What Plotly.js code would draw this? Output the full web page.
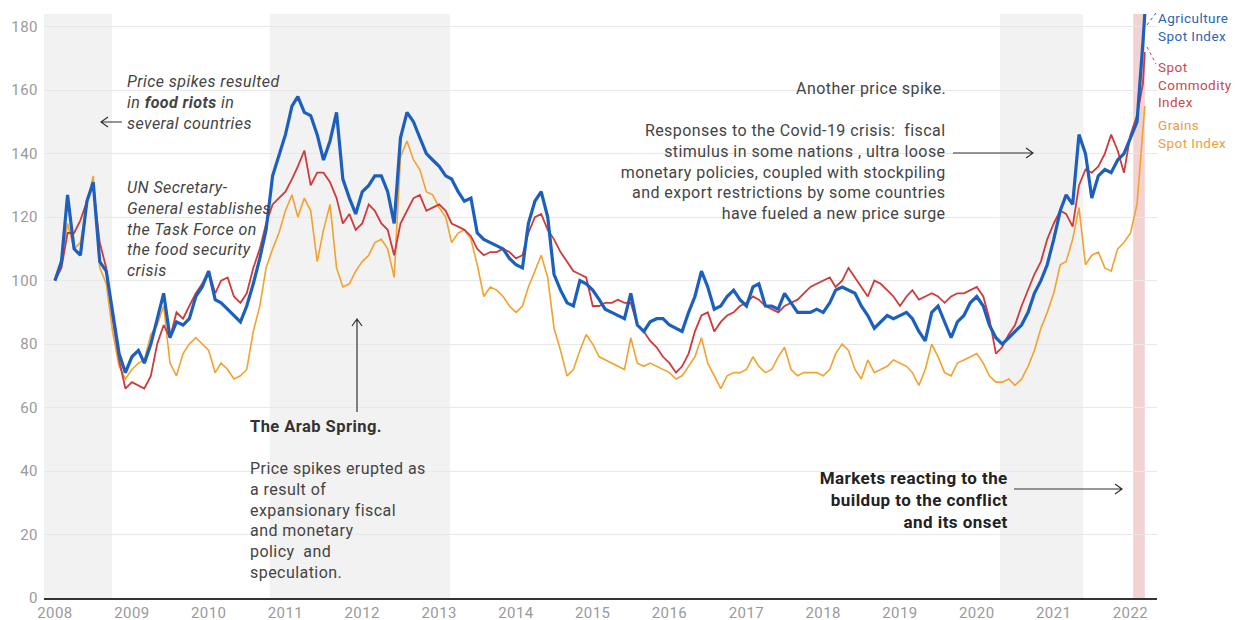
<!DOCTYPE html>
<html><head><meta charset="utf-8">
<script src="https://cdn.plot.ly/plotly-3.0.1.min.js"></script>
<style>html,body{margin:0;padding:0;background:#fff}#chart{width:1243px;height:620px}#chart text{letter-spacing:0.45px}</style>
</head><body><div id="chart"></div>
<script>
const dates = [
'2008-01','2008-02','2008-03','2008-04','2008-05','2008-06','2008-07','2008-08','2008-09','2008-10','2008-11','2008-12',
'2009-01','2009-02','2009-03','2009-04','2009-05','2009-06','2009-07','2009-08','2009-09','2009-10','2009-11','2009-12',
'2010-01','2010-02','2010-03','2010-04','2010-05','2010-06','2010-07','2010-08','2010-09','2010-10','2010-11','2010-12',
'2011-01','2011-02','2011-03','2011-04','2011-05','2011-06','2011-07','2011-08','2011-09','2011-10','2011-11','2011-12',
'2012-01','2012-02','2012-03','2012-04','2012-05','2012-06','2012-07','2012-08','2012-09','2012-10','2012-11','2012-12',
'2013-01','2013-02','2013-03','2013-04','2013-05','2013-06','2013-07','2013-08','2013-09','2013-10','2013-11','2013-12',
'2014-01','2014-02','2014-03','2014-04','2014-05','2014-06','2014-07','2014-08','2014-09','2014-10','2014-11','2014-12',
'2015-01','2015-02','2015-03','2015-04','2015-05','2015-06','2015-07','2015-08','2015-09','2015-10','2015-11','2015-12',
'2016-01','2016-02','2016-03','2016-04','2016-05','2016-06','2016-07','2016-08','2016-09','2016-10','2016-11','2016-12',
'2017-01','2017-02','2017-03','2017-04','2017-05','2017-06','2017-07','2017-08','2017-09','2017-10','2017-11','2017-12',
'2018-01','2018-02','2018-03','2018-04','2018-05','2018-06','2018-07','2018-08','2018-09','2018-10','2018-11','2018-12',
'2019-01','2019-02','2019-03','2019-04','2019-05','2019-06','2019-07','2019-08','2019-09','2019-10','2019-11','2019-12',
'2020-01','2020-02','2020-03','2020-04','2020-05','2020-06','2020-07','2020-08','2020-09','2020-10','2020-11','2020-12',
'2021-01','2021-02','2021-03','2021-04','2021-05','2021-06','2021-07','2021-08','2021-09','2021-10','2021-11','2021-12',
'2022-01','2022-02','2022-03','2022-03-10'];

const agriculture = [
100,106,127,110,108,125,131,106,103,90,77,71,
76,78,74,80,88,96,82,87,86,88,95,98,
103,94,93,91,89,87,92,99,107,116,133,139,
146,155,158,153,152,146,138,144,153,132,126,121,
128,130,133,133,128,118,145,153,150,145,140,138,
136,133,132,128,125,126,115,113,112,111,110,107,
105,104,118,125,128,120,102,97,93,92,100,99,
97,94,91,90,89,88,96,86,84,87,88,88,
86,85,84,90,95,103,98,91,92,95,97,94,
92,98,99,92,92,91,96,93,90,90,90,91,
90,93,97,98,97,96,92,89,85,87,89,88,
89,90,88,84,81,90,92,87,82,87,89,93,
95,92,86,82,80,82,84,86,90,96,100,105,
113,122,127,124,146,140,126,133,135,134,138,140,
145,150,175,184];

const spotCommodity = [
100,104,115,115,119,125,130,112,104,88,75,66,
68,67,66,70,80,86,82,90,88,92,96,99,
103,96,100,101,95,93,96,104,110,118,124,126,
128,132,136,141,130,134,134,131,126,118,121,116,
118,124,122,118,116,108,118,122,126,127,122,123,
124,122,118,117,116,114,110,108,109,109,110,109,
107,108,115,120,121,116,113,109,106,103,102,101,
92,92,93,93,94,93,93,86,84,81,79,76,
74,71,73,77,84,89,90,84,87,89,90,92,
93,95,94,92,91,90,92,93,94,96,98,99,
100,101,98,100,104,101,98,95,100,99,97,95,
92,95,97,94,95,96,95,93,95,96,96,97,
98,95,88,77,79,83,86,92,97,102,106,113,
118,122,121,117,130,135,134,136,140,146,141,134,
146,152,162,172];

const grains = [
100,107,118,110,112,124,133,104,99,84,73,69,
72,74,75,83,86,92,74,70,77,80,82,80,
78,71,74,72,69,70,72,84,92,104,110,115,
122,127,120,126,122,106,116,124,104,98,99,103,
106,108,112,113,110,101,139,144,138,135,128,127,
123,120,112,115,116,113,105,95,98,97,95,92,
90,92,98,103,108,101,85,78,70,72,78,83,
80,76,75,74,73,72,82,74,73,74,73,72,
71,69,70,73,76,82,74,70,66,70,71,71,
72,76,73,71,72,76,79,72,70,71,71,71,
70,72,77,80,78,72,69,75,71,72,73,75,
74,73,71,67,72,80,76,71,70,74,75,76,
77,74,70,68,68,69,67,69,73,78,85,90,
96,105,106,113,123,105,108,109,104,103,110,112,
115,124,146,155];

const seriesNames = ['Agriculture Spot Index', 'Spot Commodity Index', 'Grains Spot Index'];
const yTicks = [0, 20, 40, 60, 80, 100, 120, 140, 160, 180];
const xTickDates = ['2008-01-01','2009-01-01','2010-01-01','2011-01-01','2012-01-01','2013-01-01','2014-01-01','2015-01-01','2016-01-01','2017-01-01','2018-01-01','2019-01-01','2020-01-01','2021-01-01','2022-01-01'];
const xTickLabels = ['2008','2009','2010','2011','2012','2013','2014','2015','2016','2017','2018','2019','2020','2021','2022'];
const crisisStarts = ['2007-11-10', '2010-10-18', '2020-04-20'];
const crisisEnds = ['2008-09-28', '2013-02-22', '2021-05-21'];
const conflictStart = '2022-01-14';
const conflictEnd = '2022-03-10';

const BLUE = '#1c5fbd', RED = '#cf3a3c', ORANGE = '#f2a22e';
const L = 44, R = 1157, T = 14, B = 598;
const px = x => (x - L) / (R - L);
const py = y => (B - y) / (B - T);

const traces = [
  {x: dates, y: grains, name: seriesNames[2], type: 'scatter', mode: 'lines', line: {color: ORANGE, width: 1.6}},
  {x: dates, y: spotCommodity, name: seriesNames[1], type: 'scatter', mode: 'lines', line: {color: RED, width: 1.8}},
  {x: dates, y: agriculture, name: seriesNames[0], type: 'scatter', mode: 'lines', line: {color: BLUE, width: 3.2}}
];

const shapes = [];
for (let i = 0; i < crisisStarts.length; i++) {
  shapes.push({type: 'rect', xref: 'x', yref: 'paper', x0: crisisStarts[i], x1: crisisEnds[i], y0: 0, y1: 1,
    fillcolor: '#f2f2f2', line: {width: 0}, layer: 'below'});
}
shapes.push({type: 'rect', xref: 'x', yref: 'paper', x0: conflictStart, x1: conflictEnd, y0: 0, y1: 1,
  fillcolor: '#f3d2d2', line: {width: 0}, layer: 'below'});

function pathOf(pts) {
  return pts.map(p => (p[0] === 'M' ? 'M' : 'L') + px(p[1]) + ',' + py(p[2])).join(' ');
}
function arrowShape(pts) {
  return {type: 'path', xref: 'paper', yref: 'paper', path: pathOf(pts), line: {color: '#333', width: 1.2}};
}
shapes.push(arrowShape([['M',122,122],['L',101,122],['M',108,117],['L',101,122],['L',108,127]]));
shapes.push(arrowShape([['M',357,412],['L',357,319],['M',352,326],['L',357,319],['L',362,326]]));
shapes.push(arrowShape([['M',953,153],['L',1033,153],['M',1026,148],['L',1033,153],['L',1026,158]]));
shapes.push(arrowShape([['M',1014,489],['L',1122,489],['M',1115,484],['L',1122,489],['L',1115,494]]));
shapes.push({type: 'path', xref: 'paper', yref: 'paper', path: pathOf([['M',1147,25],['L',1156,13]]), line: {color: BLUE, width: 1, dash: 'dot'}});
shapes.push({type: 'path', xref: 'paper', yref: 'paper', path: pathOf([['M',1147,47],['L',1156,64]]), line: {color: RED, width: 1, dash: 'dot'}});

const FONT = 'Roboto, "Open Sans", sans-serif';
function note(text, x, y, anchor, size, color) {
  return {text: text, xref: 'paper', yref: 'paper', x: px(x), y: py(y), xanchor: anchor, yanchor: 'top',
    align: anchor, showarrow: false, font: {family: FONT, size: size, color: color}};
}
const annotations = [
  note('<i>Price spikes resulted<br>in <b>food riots</b> in<br>several countries</i>', 125, 70, 'left', 16, '#444'),
  note('<i>UN Secretary-<br>General establishes<br>the Task Force on<br>the food security<br>crisis</i>', 125, 176, 'left', 16, '#444'),
  note('<b>The Arab Spring.</b>', 248, 415, 'left', 16.5, '#333'),
  note('Price spikes erupted as<br>a result of<br>expansionary fiscal<br>and monetary<br>policy  and<br>speculation.', 248, 457, 'left', 16, '#444'),
  note('Another price spike.', 948, 77, 'right', 16, '#444'),
  note('Responses to the Covid-19 crisis:  fiscal<br>stimulus in some nations , ultra loose<br>monetary policies, coupled with stockpiling<br>and export restrictions by some countries<br>have fueled a new price surge', 948, 119, 'right', 16, '#444'),
  note('<b>Markets reacting to the<br>buildup to the conflict<br>and its onset</b>', 1010, 466, 'right', 17, '#222'),
  note('Agriculture<br>Spot Index', 1156, 8, 'left', 13.5, '#2a66b3'),
  note('Spot<br>Commodity<br>Index', 1156, 57, 'left', 13.5, '#c94848'),
  note('Grains<br>Spot Index', 1156, 115, 'left', 13.5, '#e9a03a')
];

const layout = {
  width: 1243, height: 620,
  margin: {l: L, r: 1243 - R, t: T, b: 620 - B},
  paper_bgcolor: '#fff', plot_bgcolor: '#fff',
  showlegend: false,
  font: {family: FONT, color: '#999'},
  xaxis: {type: 'date', range: ['2007-11-10', '2022-05-07'], tickmode: 'array', tickvals: xTickDates, ticktext: xTickLabels,
    showgrid: false, zeroline: false, showline: true, linecolor: '#333', linewidth: 1.5, ticks: '',
    tickfont: {family: FONT, size: 15, color: '#9a9a9a'}},
  yaxis: {range: [0, 184], tickmode: 'array', tickvals: yTicks, showgrid: true, gridcolor: '#e8e8e8', gridwidth: 1,
    zeroline: false, showline: false, ticks: '', ticklabelstandoff: 5, tickfont: {family: FONT, size: 15, color: '#9a9a9a'}},
  shapes: shapes,
  annotations: annotations
};

Plotly.newPlot('chart', traces, layout, {displayModeBar: false, staticPlot: true});
</script></body></html>
